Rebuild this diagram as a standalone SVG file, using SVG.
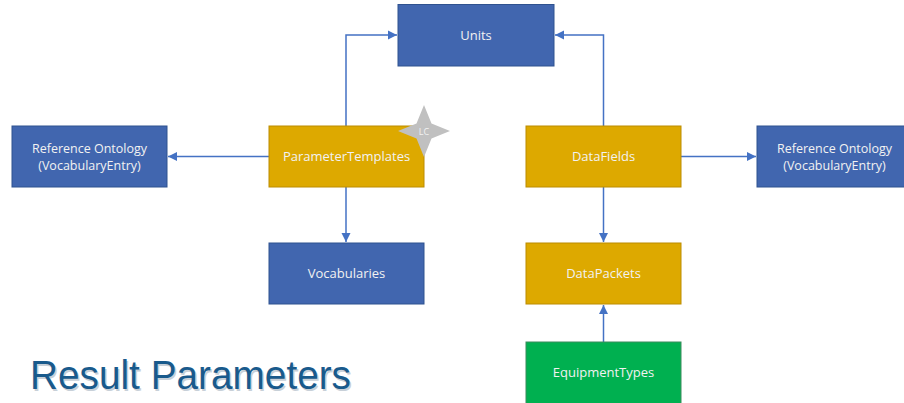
<svg xmlns="http://www.w3.org/2000/svg" width="904" height="403" viewBox="0 0 904 403">
<style>
.blue{fill:#4166AF;stroke:#2F528F;stroke-width:1}
.gold{fill:#DDA900;stroke:#BC8C00;stroke-width:1}
.green{fill:#00B050;stroke:#3A8C5C;stroke-width:1}
.lbl{font-family:"Open Sans","Liberation Sans",sans-serif;font-size:13px;fill:#F2F2F2;text-anchor:middle}
.lbl2{font-family:"Open Sans","Liberation Sans",sans-serif;font-size:12.5px;fill:#F2F2F2;text-anchor:middle}
.conn{fill:none;stroke:#4472C4;stroke-width:1.5}
</style>
<defs>
<marker id="ah" markerWidth="10" markerHeight="10" refX="9" refY="5" orient="auto" markerUnits="userSpaceOnUse">
<path d="M0,0.5 L9,5 L0,9.5 Z" fill="#4472C4"/>
</marker>
</defs>
<rect width="904" height="403" fill="#FFFFFF"/>
<g id="connectors">
<path class="conn" d="M346,126 V35 H397" marker-end="url(#ah)"/>
<path class="conn" d="M603.5,126 V35 H555" marker-end="url(#ah)"/>
<path class="conn" d="M269,156.5 H168" marker-end="url(#ah)"/>
<path class="conn" d="M681,156.5 H756" marker-end="url(#ah)"/>
<path class="conn" d="M346,187 V242" marker-end="url(#ah)"/>
<path class="conn" d="M603.5,187 V242" marker-end="url(#ah)"/>
<path class="conn" d="M603.5,342 V305" marker-end="url(#ah)"/>
</g>
<g id="units">
<rect class="blue" x="398" y="4.5" width="156" height="61.5"/>
<text class="lbl" x="476" y="40">Units</text>
</g>
<g id="ref-left">
<rect class="blue" x="12" y="126" width="155" height="61"/>
<text class="lbl2" x="89.5" y="152.5">Reference Ontology</text>
<text class="lbl2" x="89.5" y="170">(VocabularyEntry)</text>
</g>
<g id="parameter-templates">
<rect class="gold" x="269" y="126" width="155" height="61"/>
<text class="lbl" x="346.5" y="161">ParameterTemplates</text>
</g>
<g id="lc-star">
<path d="M424,105 L431.5,123.5 L450,131 L431.5,138.5 L424,157 L416.5,138.5 L398,131 L416.5,123.5 Z" fill="#C0C0C0"/>
<text x="424" y="134.5" font-family="Open Sans,Liberation Sans,sans-serif" font-size="9px" fill="#F2F2F2" text-anchor="middle">LC</text>
</g>
<g id="datafields">
<rect class="gold" x="526" y="126" width="155" height="61"/>
<text class="lbl" x="603.5" y="161">DataFields</text>
</g>
<g id="ref-right">
<rect class="blue" x="757" y="126" width="155" height="61"/>
<text class="lbl2" x="834.5" y="152.5">Reference Ontology</text>
<text class="lbl2" x="834.5" y="170">(VocabularyEntry)</text>
</g>
<g id="vocabularies">
<rect class="blue" x="269" y="243" width="155" height="61"/>
<text class="lbl" x="346.5" y="278">Vocabularies</text>
</g>
<g id="datapackets">
<rect class="gold" x="526" y="243" width="155" height="61"/>
<text class="lbl" x="603.5" y="278">DataPackets</text>
</g>
<g id="equipment-types">
<rect class="green" x="526" y="342" width="155" height="62"/>
<text class="lbl" x="603.5" y="377">EquipmentTypes</text>
</g>
<g id="title">
<text x="31.5" y="390.5" font-family="Liberation Sans,Arial,sans-serif" font-size="40px" fill="#C8D0D8" textLength="321" lengthAdjust="spacingAndGlyphs">Result Parameters</text>
<text x="30" y="389" font-family="Liberation Sans,Arial,sans-serif" font-size="40px" fill="#195A8C" textLength="321" lengthAdjust="spacingAndGlyphs">Result Parameters</text>
</g>
</svg>
